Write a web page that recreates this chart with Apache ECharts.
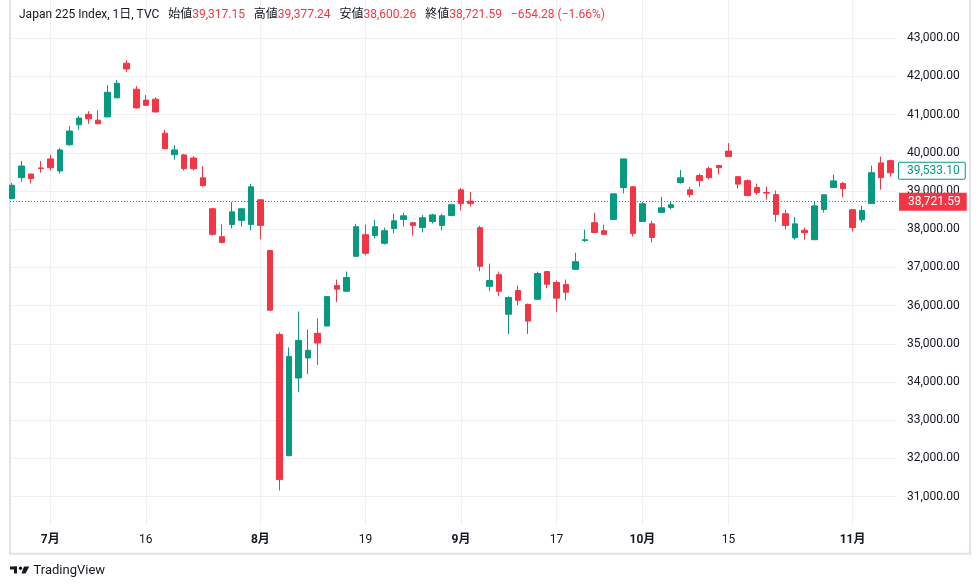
<!DOCTYPE html>
<html lang="ja">
<head>
<meta charset="UTF-8">
<title>Japan 225 Index</title>
<script src="https://cdn.jsdelivr.net/npm/echarts@6/dist/echarts.min.js"></script>
<style>html,body{margin:0;padding:0;background:#fff;}</style>
</head>
<body>
<div id="main" style="width:980px;height:588px;"></div>
<script>
// 取引日
const dates = [
  '2024-06-25','2024-06-26','2024-06-27','2024-06-28',
  '2024-07-01','2024-07-02','2024-07-03','2024-07-04','2024-07-05',
  '2024-07-08','2024-07-09','2024-07-10','2024-07-11','2024-07-12',
  '2024-07-16','2024-07-17','2024-07-18','2024-07-19',
  '2024-07-22','2024-07-23','2024-07-24','2024-07-25','2024-07-26',
  '2024-07-29','2024-07-30','2024-07-31','2024-08-01','2024-08-02',
  '2024-08-05','2024-08-06','2024-08-07','2024-08-08','2024-08-09',
  '2024-08-13','2024-08-14','2024-08-15','2024-08-16',
  '2024-08-19','2024-08-20','2024-08-21','2024-08-22','2024-08-23',
  '2024-08-26','2024-08-27','2024-08-28','2024-08-29','2024-08-30',
  '2024-09-02','2024-09-03','2024-09-04','2024-09-05','2024-09-06',
  '2024-09-09','2024-09-10','2024-09-11','2024-09-12','2024-09-13',
  '2024-09-17','2024-09-18','2024-09-19','2024-09-20',
  '2024-09-24','2024-09-25','2024-09-26','2024-09-27','2024-09-30',
  '2024-10-01','2024-10-02','2024-10-03','2024-10-04',
  '2024-10-07','2024-10-08','2024-10-09','2024-10-10','2024-10-11',
  '2024-10-15','2024-10-16','2024-10-17','2024-10-18',
  '2024-10-21','2024-10-22','2024-10-23','2024-10-24','2024-10-25',
  '2024-10-28','2024-10-29','2024-10-30','2024-10-31','2024-11-01',
  '2024-11-05','2024-11-06','2024-11-07','2024-11-08','2024-11-11'
];

// 始値 / 終値 / 安値 / 高値
const opens = [
  38800, 39350, 39445, 39605,
  39840, 39525, 40210, 40735, 41005,
  40855, 40940, 41440, 42345, 41665,
  41380, 41405, 40515, 39950,
  39945, 39865, 39345, 38535, 37805,
  38125, 38230, 38125, 38770, 37440,
  35245, 32070, 34105, 34630, 35275,
  35465, 36525, 36375, 37290,
  37855, 37835, 37630, 38020, 38255,
  38170, 38045, 38200, 38100, 38360,
  39030, 38735, 38040, 36505, 36810,
  35775, 36395, 36030, 36165, 36890,
  36605, 36550, 36950, 37705,
  38170, 37960, 38255, 39090, 39110,
  38200, 38140, 38435, 38570,
  39220, 39030, 39405, 39585, 39665,
  40045, 39375, 39270, 39090,
  38960, 38905, 38405, 37775, 37970,
  37725, 38515, 39090, 39195, 38510,
  38245, 38670, 39735, 39795, 39415
];
const closes = [
  39150, 39655, 39325, 39590,
  39610, 40075, 40570, 40910, 40890,
  40760, 41585, 41820, 42195, 41175,
  41245, 41070, 40105, 40075,
  39585, 39585, 39140, 37865, 37655,
  38455, 38535, 39110, 38100, 35880,
  31445, 34670, 35090, 34830, 35020,
  36235, 36430, 36735, 38065,
  37370, 38065, 37960, 38220, 38350,
  38100, 38300, 38375, 38350, 38640,
  38670, 38670, 37030, 36655, 36375,
  36210, 36140, 35595, 36840, 36560,
  36195, 36350, 37150, 37725,
  37915, 37865, 38925, 39840, 37890,
  38665, 37785, 38560, 38640,
  39345, 38905, 39270, 39350, 39610,
  39900, 39180, 38880, 38960,
  38945, 38385, 38100, 38140, 37910,
  38610, 38900, 39265, 39065, 38045,
  38490, 39480, 39350, 39475, 39533
];
const lows = [
  38785, 39240, 39195, 39480,
  39535, 39455, 40185, 40605, 40760,
  40745, 40930, 41430, 42115, 41160,
  41230, 41060, 40100, 39820,
  39535, 39535, 39115, 37835, 37630,
  38020, 38070, 37970, 37735, 35870,
  31160, 32060, 33740, 34210, 34445,
  35460, 36090, 36370, 37280,
  37315, 37760, 37600, 37890, 38070,
  37835, 37915, 38150, 37970, 38335,
  38490, 38595, 36900, 36375, 36245,
  35255, 36010, 35255, 36160, 36455,
  35830, 36140, 36940, 37665,
  37905, 37855, 38250, 38935, 37810,
  38195, 37655, 38430, 38515,
  39195, 38830, 39110, 39300, 39430,
  39890, 39065, 38870, 38905,
  38775, 38195, 37995, 37725, 37725,
  37720, 38435, 39085, 38830, 37940,
  38175, 38665, 39035, 39375, 39380
];
const highs = [
  39210, 39785, 39450, 39785,
  39945, 40125, 40700, 40960, 41090,
  41115, 41770, 41900, 42420, 41745,
  41510, 41455, 40595, 40205,
  39970, 39915, 39655, 38560, 38125,
  38715, 38545, 39185, 38780, 37465,
  35300, 34905, 35845, 35375, 35665,
  36240, 36680, 36890, 38140,
  38115, 38245, 38040, 38405, 38430,
  38195, 38375, 38405, 38405, 38665,
  39080, 38975, 38090, 37100, 36890,
  36240, 36525, 36055, 36890, 36900,
  36655, 36680, 37385, 37985,
  38430, 38115, 38930, 39845, 39135,
  38715, 38220, 38845, 38740,
  39550, 39110, 39455, 39635, 39690,
  40255, 39385, 39300, 39195,
  39115, 39010, 38510, 38315, 38040,
  38740, 38905, 39430, 39240, 38515,
  38610, 39665, 39900, 39820, 39600
];

// 目盛りラベル
const tickDates = ['2024-07-01','2024-07-16','2024-08-01','2024-08-19','2024-09-02','2024-09-17','2024-10-01','2024-10-15','2024-11-01'];
const tickTexts = ['7月','16','8月','19','9月','17','10月','15','11月'];

const lastPrice = 38721.59;   // 終値ライン
const markPrice = 39533.10;   // 緑のラベル

const UP = '#089981';
const DOWN = '#f23645';
const TEXT = '#131722';
const GRID = '#eef0f3';
const FONT = 'Roboto, "Noto Sans CJK JP", sans-serif';

const candleData = dates.map((d, i) => [i, opens[i], closes[i], lows[i], highs[i]]);

function fmt(v) {
  return v.toLocaleString('en-US', { minimumFractionDigits: 2, maximumFractionDigits: 2 });
}
function isTick(idx, val) {
  return tickDates.indexOf(val) >= 0;
}

const chart = echarts.init(document.getElementById('main'));

const option = {
  animation: false,
  backgroundColor: '#fff',
  textStyle: { fontFamily: FONT },
  title: {
    left: 14,
    top: 1,
    text: '{n|Japan 225 Index, 1日, TVC}  {n|始値}{v|39,317.15}  {n|高値}{v|39,377.24}  {n|安値}{v|38,600.26}  {n|終値}{v|38,721.59}  {v|−654.28 (−1.66%)}',
    textStyle: {
      fontWeight: 'normal',
      rich: {
        n: { color: TEXT, fontSize: 12, fontWeight: 'normal', fontFamily: FONT },
        v: { color: DOWN, fontSize: 12, fontWeight: 'normal', fontFamily: FONT }
      }
    }
  },
  grid: [
    // ローソク足
    { left: 10, right: 83, top: -1.8, height: 536.6 },
    // 日付軸と縦線
    { left: 12.1, right: 79.7, top: 0, bottom: 63 }
  ],
  xAxis: [
    {
      type: 'value', gridIndex: 0, min: -0.22, max: 92.66,
      show: false
    },
    {
      type: 'category', gridIndex: 1, data: dates, boundaryGap: false,
      axisLine: { show: false },
      axisTick: { show: false },
      splitLine: { show: true, interval: isTick, lineStyle: { color: GRID, width: 1 } },
      axisLabel: {
        interval: isTick,
        margin: 9,
        formatter: function (val) {
          const t = tickTexts[tickDates.indexOf(val)];
          return t.indexOf('月') >= 0 ? '{b|' + t + '}' : '{r|' + t + '}';
        },
        rich: {
          b: { color: TEXT, fontSize: 12, fontWeight: 'bold', fontFamily: FONT },
          r: { color: TEXT, fontSize: 12, fontFamily: FONT }
        }
      }
    }
  ],
  yAxis: [
    {
      type: 'value', gridIndex: 0, position: 'right',
      min: 30000, max: 44000, interval: 1000,
      axisLine: { show: false },
      axisTick: { show: false },
      splitLine: { show: true, showMinLine: false, showMaxLine: false, lineStyle: { color: GRID, width: 1 } },
      axisLabel: {
        showMinLabel: false, showMaxLabel: false,
        margin: 10, color: TEXT, fontSize: 12,
        formatter: fmt
      }
    },
    { type: 'value', gridIndex: 1, show: false }
  ],
  series: [
    {
      type: 'candlestick',
      xAxisIndex: 0,
      yAxisIndex: 0,
      data: candleData,
      encode: { x: 0, y: [1, 2, 3, 4] },
      barWidth: 6,
      clip: true,
      itemStyle: {
        color: UP, color0: DOWN,
        borderColor: UP, borderColor0: DOWN,
        borderWidth: 1
      },
      markLine: {
        silent: true,
        symbol: 'none',
        animation: false,
        data: [
          {
            yAxis: markPrice,
            lineStyle: { color: 'rgba(0,0,0,0)', width: 0 },
            label: {
              position: 'end', distance: 2,
              formatter: () => fmt(markPrice),
              color: UP, backgroundColor: '#fff',
              borderColor: UP, borderWidth: 1, borderRadius: 1,
              fontSize: 12, lineHeight: 12,
              padding: [2, 5, 2, 8]
            }
          }
        ]
      }
    },
    {
      // 終値の点線
      type: 'line',
      xAxisIndex: 0,
      yAxisIndex: 0,
      data: [],
      color: DOWN,
      markLine: {
        silent: true,
        symbol: 'none',
        animation: false,
        lineStyle: { color: DOWN, type: [1, 2], width: 1, opacity: 1 },
        data: [
          {
            yAxis: lastPrice,
            label: {
              position: 'end', distance: 2,
              formatter: () => fmt(lastPrice),
              color: '#fff', backgroundColor: DOWN,
              fontSize: 12, lineHeight: 12,
              padding: [3, 6, 3, 9]
            }
          }
        ]
      }
    }
  ],
  graphic: [
    {
      type: 'rect', z: -1, silent: true,
      shape: { x: 10, y: -2, width: 960, height: 555.7 },
      style: { fill: 'none', stroke: '#e0e3eb', lineWidth: 2 }
    },
    {
      type: 'group', left: 10, top: 566.5,
      children: [
        { type: 'rect', shape: { x: 0, y: 0, width: 7, height: 3 }, style: { fill: TEXT } },
        { type: 'rect', shape: { x: 4, y: 0, width: 3, height: 7 }, style: { fill: TEXT } },
        { type: 'circle', shape: { cx: 10.5, cy: 1.7, r: 1.7 }, style: { fill: TEXT } },
        { type: 'polygon', shape: { points: [[14, 0], [19.3, 0], [15.5, 7], [11.5, 7]] }, style: { fill: TEXT } }
      ]
    },
    {
      type: 'text', left: 33.5, top: 564.5,
      style: { text: 'TradingView', fill: TEXT, font: '13px Roboto, sans-serif' }
    }
  ]
};

chart.setOption(option);
</script>
</body>
</html>
